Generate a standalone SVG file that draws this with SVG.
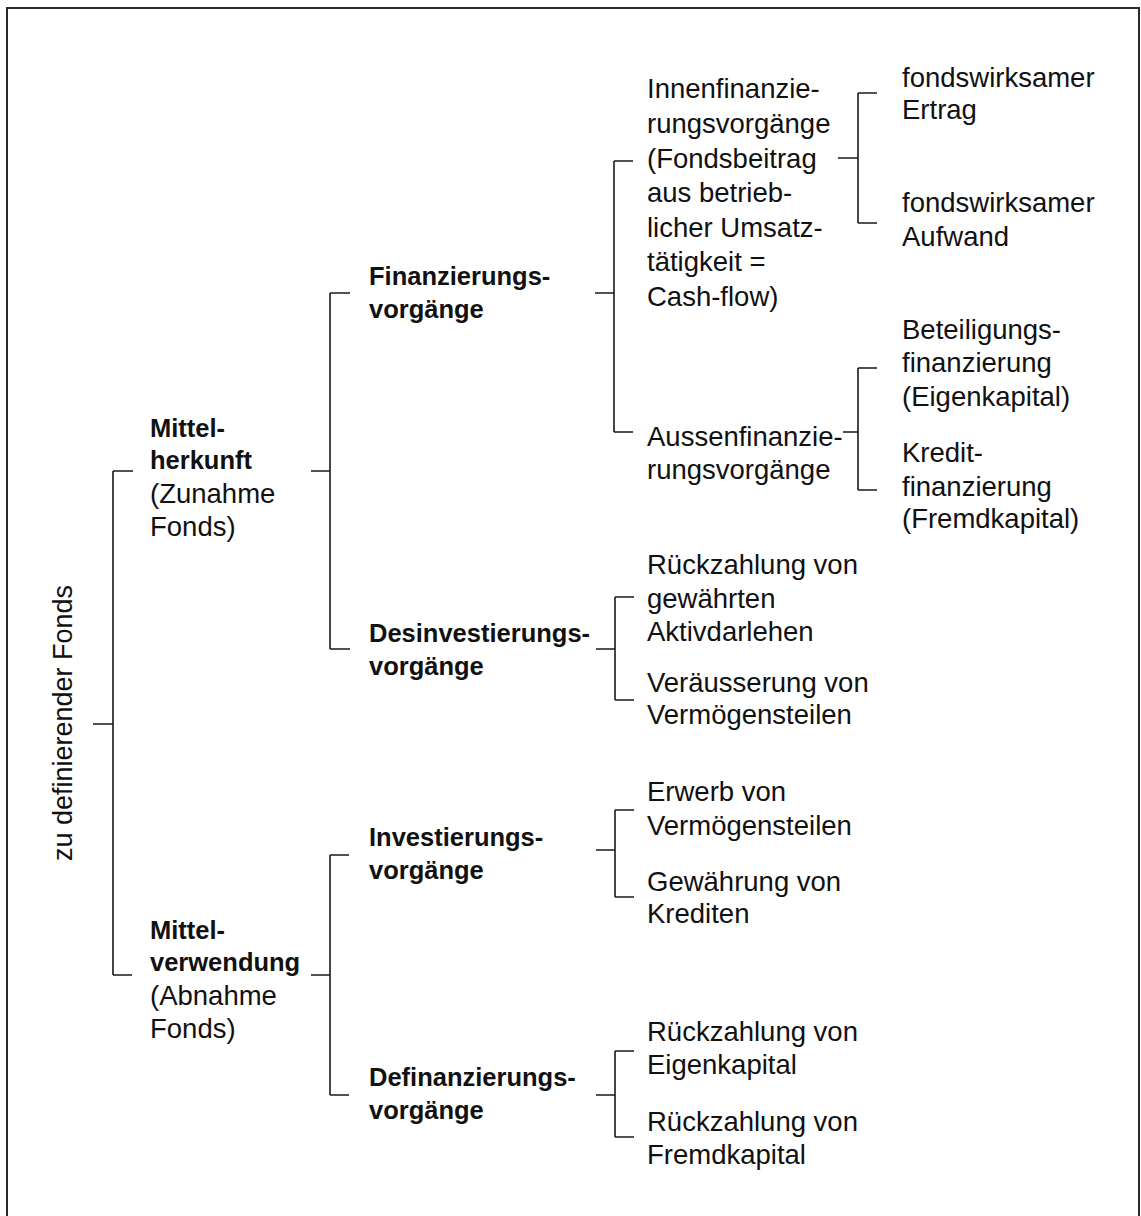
<svg xmlns="http://www.w3.org/2000/svg" width="1141" height="1216" viewBox="0 0 1141 1216">
<style>
text{font-family:"Liberation Sans",Arial,sans-serif;font-size:27.5px;fill:#111}
.b{font-weight:bold;font-size:25.5px}
.root{font-size:27px}
.c{stroke:#1a1a1a;stroke-width:1.6;fill:none}
</style>
<rect x="0" y="0" width="1141" height="1216" fill="#fff"/>
<rect x="7" y="8" width="1132" height="1230" fill="none" stroke="#2a2a2a" stroke-width="2"/>
<g id="connectors" class="c">
<path d="M93 724H113M113 471V975M113 471H133M113 975H132"/>
<path d="M311 471H330M330 293V649M330 293H350M330 649H350"/>
<path d="M311 975H330M330 855V1095M330 855H349M330 1095H349"/>
<path d="M595 293H614M614 161V432M614 161H633M614 432H633"/>
<path d="M838 158H858M858 93V223M858 93H877M858 223H877"/>
<path d="M843 432H858M858 368V490M858 368H877M858 490H877"/>
<path d="M596 649H615M615 597V700M615 597H634M615 700H634"/>
<path d="M596 850H615M615 810V897M615 810H634M615 897H634"/>
<path d="M596 1095H615M615 1051V1137M615 1051H634M615 1137H634"/>
</g>
<g id="root"><text class="root" transform="translate(72 723) rotate(-90)" text-anchor="middle">zu definierender Fonds</text></g>
<g id="mittelherkunft"><text x="150" y="437" class="b">Mittel-</text><text x="150" y="469" class="b">herkunft</text><text x="150" y="503">(Zunahme</text><text x="150" y="536">Fonds)</text></g>
<g id="mittelverwendung"><text x="150" y="939" class="b">Mittel-</text><text x="150" y="971" class="b">verwendung</text><text x="150" y="1005">(Abnahme</text><text x="150" y="1038">Fonds)</text></g>
<g id="finanzierung"><text x="369" y="285" class="b">Finanzierungs-</text><text x="369" y="318" class="b">vorgänge</text></g>
<g id="desinvestierung"><text x="369" y="642" class="b">Desinvestierungs-</text><text x="369" y="675" class="b">vorgänge</text></g>
<g id="investierung"><text x="369" y="846" class="b">Investierungs-</text><text x="369" y="879" class="b">vorgänge</text></g>
<g id="definanzierung"><text x="369" y="1086" class="b">Definanzierungs-</text><text x="369" y="1119" class="b">vorgänge</text></g>
<g id="innenfinanzierung"><text x="647" y="98">Innenfinanzie-</text><text x="647" y="132.5">rungsvorgänge</text><text x="647" y="168">(Fondsbeitrag</text><text x="647" y="202">aus betrieb-</text><text x="647" y="237">licher Umsatz-</text><text x="647" y="271">tätigkeit =</text><text x="647" y="306">Cash-flow)</text></g>
<g id="ertrag"><text x="902" y="87">fondswirksamer</text><text x="902" y="119">Ertrag</text></g>
<g id="aufwand"><text x="902" y="212">fondswirksamer</text><text x="902" y="246">Aufwand</text></g>
<g id="aussenfinanzierung"><text x="647" y="446">Aussenfinanzie-</text><text x="647" y="479">rungsvorgänge</text></g>
<g id="beteiligung"><text x="902" y="339">Beteiligungs-</text><text x="902" y="372">finanzierung</text><text x="902" y="406">(Eigenkapital)</text></g>
<g id="kredit"><text x="902" y="462">Kredit-</text><text x="902" y="496">finanzierung</text><text x="902" y="528">(Fremdkapital)</text></g>
<g id="rueckzahlung-darlehen"><text x="647" y="574">Rückzahlung von</text><text x="647" y="608">gewährten</text><text x="647" y="641">Aktivdarlehen</text></g>
<g id="veraeusserung"><text x="647" y="692">Veräusserung von</text><text x="647" y="724">Vermögensteilen</text></g>
<g id="erwerb"><text x="647" y="801">Erwerb von</text><text x="647" y="835">Vermögensteilen</text></g>
<g id="gewaehrung"><text x="647" y="891">Gewährung von</text><text x="647" y="923">Krediten</text></g>
<g id="rueckzahlung-ek"><text x="647" y="1041">Rückzahlung von</text><text x="647" y="1074">Eigenkapital</text></g>
<g id="rueckzahlung-fk"><text x="647" y="1131">Rückzahlung von</text><text x="647" y="1164">Fremdkapital</text></g>
</svg>
